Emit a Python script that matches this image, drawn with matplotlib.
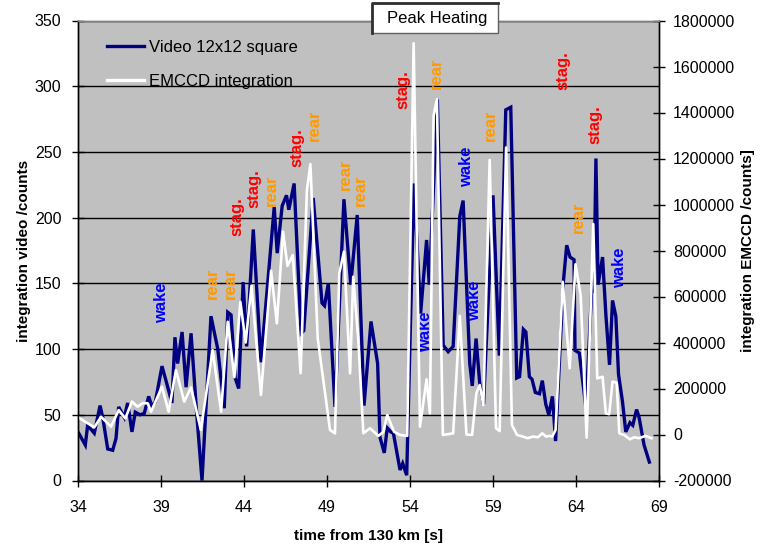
import matplotlib
matplotlib.use("Agg")
import matplotlib.pyplot as plt
from matplotlib.lines import Line2D
from matplotlib.patches import Rectangle

plt.rcParams['font.family'] = ['Liberation Sans', 'DejaVu Sans']

# Video 12x12 square integration (left axis, counts)
video_t = [34.0, 34.44, 34.58, 34.98, 35.33, 35.49, 35.79, 36.09, 36.29, 36.45,
           36.79, 36.99, 37.25, 37.45, 37.73, 37.99, 38.26, 38.46, 38.66, 39.06,
           39.3, 39.66, 39.84, 40.0, 40.27, 40.51, 40.81, 41.15, 41.47, 42.01,
           42.42, 42.81, 43.02, 43.22, 43.47, 43.68, 43.95, 44.16, 44.56, 45.02,
           45.82, 46.0, 46.3, 46.56, 46.7, 47.02, 47.44, 47.6, 48.17, 48.7,
           48.85, 49.08, 49.48, 50.02, 50.43, 50.82, 51.23, 51.65, 52.05, 52.19,
           52.45, 52.63, 52.84, 53.0, 53.4, 53.56, 53.8, 54.24, 54.64, 55.0,
           55.16, 55.65, 56.0, 56.3, 56.6, 57.0, 57.2, 57.6, 57.75, 57.98,
           58.2, 58.43, 59.0, 59.38, 59.77, 60.07, 60.43, 60.6, 60.83, 60.98,
           61.19, 61.35, 61.55, 61.8, 61.97, 62.18, 62.36, 62.58, 62.77, 63.23,
           63.44, 63.64, 63.88, 63.94, 64.2, 64.6, 64.94, 65.08, 65.2, 65.33,
           65.6, 65.8, 66.02, 66.2, 66.4, 66.56, 66.8, 67.0, 67.25, 67.42,
           67.65, 67.8, 68.1, 68.42]
video_v = [37, 27, 42, 36, 57, 48, 24, 23, 32, 56,
           48, 59, 37, 52, 50, 51, 64, 56, 60, 87,
           76, 59, 109, 89, 113, 71, 112, 51, 0, 125,
           100, 55, 128, 126, 78, 70, 151, 102, 191, 90,
           208, 173, 209, 217, 206, 226, 112, 114, 215, 135,
           133, 150, 56, 214, 149, 202, 57, 121, 89, 33,
           21, 40, 37, 36, 8, 13, 4, 226, 127, 183,
           149, 290, 103, 98, 102, 201, 213, 89, 72, 108,
           74, 58, 217, 95, 282, 284, 78, 79, 115, 113,
           79, 77, 67, 66, 76, 58, 50, 64, 30, 150,
           179, 170, 168, 99, 97, 55, 144, 144, 245, 149,
           170, 126, 88, 137, 125, 81, 60, 37, 44, 42,
           54, 48, 27, 14]

# EMCCD integration (right axis, counts)
emccd_t = [34.0, 34.58, 34.98, 35.39, 35.99, 36.45, 36.85, 37.25, 37.59, 37.89,
           38.19, 38.4, 39.06, 39.46, 39.9, 40.4, 40.81, 41.4, 42.11, 42.62,
           43.02, 43.42, 43.78, 44.1, 44.45, 45.02, 45.63, 45.98, 46.35, 46.62,
           46.94, 47.41, 47.79, 48.0, 48.44, 49.18, 49.48, 49.74, 50.02, 50.39,
           50.58, 50.88, 51.19, 51.59, 52.1, 52.4, 52.63, 53.04, 53.4, 53.83,
           54.22, 54.6, 55.0, 55.2, 55.42, 55.62, 55.98, 56.6, 57.0, 57.4,
           57.74, 58.0, 58.2, 58.42, 58.8, 59.18, 59.4, 59.79, 60.14, 60.45,
           60.8, 61.1, 61.4, 61.7, 61.97, 62.2, 62.4, 62.57, 62.77, 63.2,
           63.62, 63.97, 64.28, 64.64, 65.04, 65.28, 65.6, 65.8, 66.0, 66.2,
           66.45, 66.61, 66.9, 67.25, 67.5, 67.8, 68.19, 68.55]
emccd_v = [75000, 49000, 31000, 77000, 34000, 106000, 70000, 143000, 121000, 136000,
           136000, 99000, 208000, 99000, 280000, 143000, 205000, 20000, 367000, 99000,
           490000, 249000, 577000, 400000, 647000, 172000, 712000, 483000, 882000, 733000,
           780000, 266000, 1063000, 1176000, 418000, 20000, 5000, 701000, 795000, 266000,
           686000, 418000, 5000, 27000, -6000, 12000, 85000, 12000, -2000, -6000,
           1701000, 34000, 240000, 92000, 1385000, 1458000, -2000, 5000, 516000, 0,
           -2000, 180000, 215000, 128000, 1194000, 27000, 15000, 1248000, 41000, -2000,
           -9000, -16000, -9000, -12000, 5000, -9000, -6000, -9000, 20000, 664000,
           288000, 740000, 607000, -14000, 915000, 244000, 251000, 92000, 88000, 230000,
           225000, 5000, -2000, -21000, -12000, -16000, -6000, -16000]

# Flow-region annotations (time, left-axis position)
note_text = ['wake', 'rear', 'rear', 'stag.', 'stag.', 'rear', 'stag.', 'rear',
             'rear', 'rear', 'stag.', 'rear', 'wake', 'wake', 'wake', 'rear',
             'stag.', 'rear', 'stag.', 'wake']
note_t = [39.06, 42.11, 43.16, 43.56, 44.62, 45.67, 47.21, 48.22,
          50.08, 51.03, 53.6, 55.57, 54.96, 57.42, 57.87, 58.86,
          63.24, 64.14, 65.14, 66.61]
note_v = [135, 150, 150, 201, 222, 221, 253, 270,
          233, 221, 297.5, 310, 113, 239, 136.6, 270,
          311.6, 200, 271, 162]
note_color = {'wake': '#0000FF', 'rear': '#FF9900', 'stag.': '#FF0000'}

x_ticks = [34, 39, 44, 49, 54, 59, 64, 69]

fig = plt.figure(figsize=(7.65, 5.45), dpi=100)
ax = fig.add_axes([78 / 765, 1 - 480.5 / 545, (659 - 78) / 765, 460 / 545])
ax.set_facecolor('#C0C0C0')
ax2 = ax.twinx()

ax.set_xlim(34, 69)
ax.set_ylim(0, 350)
ax2.set_ylim(-200000, 1800000)
ax.set_xticks(x_ticks)
ax.set_yticks(range(0, 351, 50))
ax2.set_yticks(range(-200000, 1800001, 200000))
ax2.yaxis.set_major_formatter(matplotlib.ticker.FuncFormatter(lambda v, p: f"{int(v)}"))

ax.yaxis.grid(True, color='black', linewidth=1.0)
ax.set_axisbelow(True)

ax.plot(video_t, video_v, color='#000080', linewidth=2.4, solid_joinstyle='miter')
ax2.plot(emccd_t, emccd_v, color='white', linewidth=1.9)

for txt, t, v in zip(note_text, note_t, note_v):
    ax.text(t, v, txt, rotation=90, ha='center', va='center',
            color=note_color[txt], fontsize=12, fontweight='bold')

for a in (ax, ax2):
    a.tick_params(direction='inout', length=8, width=1, labelsize=11.5,
                  colors='black', pad=8)
    for s in a.spines.values():
        s.set_color('black')
        s.set_linewidth(1.0)
ax.spines['top'].set_color('#808080')
ax2.spines['top'].set_color('#808080')
ax.tick_params(axis='x', pad=10)
ax2.tick_params(axis='y', pad=6)

ax.set_xlabel('time from 130 km [s]', fontsize=11, fontweight='bold', labelpad=10)
ax.set_ylabel('integration video /counts', fontsize=11, fontweight='bold', labelpad=3)
ax2.set_ylabel('integration EMCCD /counts]', fontsize=11, fontweight='bold', labelpad=4)

handles = [Line2D([], [], color='#000080', linewidth=2.4),
           Line2D([], [], color='white', linewidth=2.4)]
ax2.legend(handles, ['Video 12x12 square', 'EMCCD integration'],
           loc='upper left', bbox_to_anchor=(107 / 765, 1 - 40 / 545),
           bbox_transform=fig.transFigure, frameon=False, fontsize=12,
           handlelength=2.2, handletextpad=0.3, labelspacing=1.15,
           borderpad=0, borderaxespad=0)

# "Peak Heating" caption box
box = Rectangle((372 / 765, 1 - 33 / 545), 126 / 765, 30 / 545,
                transform=fig.transFigure, facecolor='white',
                edgecolor='#606060', linewidth=1.0, zorder=5)
fig.patches.append(box)
fig.lines.append(Line2D([372 / 765, 372 / 765, 498 / 765],
                        [1 - 33 / 545, 1 - 3 / 545, 1 - 3 / 545],
                        transform=fig.transFigure, color='#303030',
                        linewidth=2.0, zorder=6))
fig.text(437 / 765, 1 - 18.5 / 545, 'Peak Heating', ha='center', va='center',
         fontsize=12, zorder=7)

fig.savefig('out.png', dpi=100)
